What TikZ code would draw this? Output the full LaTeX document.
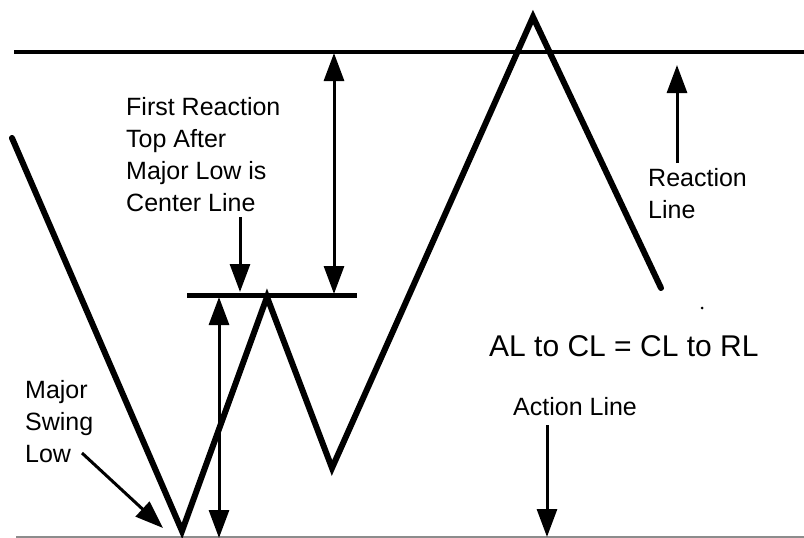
\documentclass[tikz,border=0pt]{standalone}
\usepackage{fontspec}
\setmainfont{Liberation Sans}
\usetikzlibrary{arrows.meta}
\begin{document}
\begin{tikzpicture}[x=1pt,y=-1pt,
  price/.style={line width=6pt,line cap=round,line join=miter},
  level/.style={line width=4pt},
  baseline/.style={line width=2pt,draw=black!45},
  ptr/.style={line width=3pt,-{Triangle[length=28pt,width=20pt]}},
  dptr/.style={line width=3pt,{Triangle[length=28pt,width=20pt]}-{Triangle[length=28pt,width=20pt]}},
  lbl/.style={inner sep=0pt,anchor=north west,align=left,font=\fontsize{25}{32}\selectfont},
  eq/.style={inner sep=0pt,anchor=north west,font=\fontsize{30}{36}\selectfont}]
\useasboundingbox[fill=white] (0,0) rectangle (804,538);
% level lines
\coordinate (rlL) at (14,52);
\coordinate (rlR) at (804,52);
\coordinate (clL) at (187,295);
\coordinate (clR) at (357,295);
\coordinate (alL) at (16,537);
\coordinate (alR) at (804,537);
\draw[level] (rlL) -- (rlR);
\draw[level,line width=5pt] (clL) -- (clR);
\draw[baseline] (alL) -- (alR);
% price swing
\coordinate (p0) at (12,138);
\coordinate (p1) at (182,531);
\coordinate (p2) at (267,297);
\coordinate (p3) at (332,468);
\coordinate (p4) at (533,17);
\coordinate (p5) at (661,288);
\draw[price] (p0) -- (p1) -- (p2) -- (p3) -- (p4) -- (p5);
% labels
\node[lbl] (first) at (126,97) {First Reaction\\Top After\\Major Low is\\Center Line};
\node[lbl] (react) at (648,168) {Reaction\\Line};
\node[lbl] (major) at (25,380) {Major\\Swing\\Low};
\node[lbl] (action) at (513,397) {Action Line};
\node[eq] (formula) at (489,335) {AL to CL = CL to RL};
% arrows
\coordinate (a1s) at (240,217);
\coordinate (a1e) at (240,292);
\draw[ptr] (a1s) -- (a1e);
\coordinate (d1t) at (334,53);
\coordinate (d1b) at (334,294);
\draw[dptr] (d1t) -- (d1b);
\coordinate (d2t) at (219,297);
\coordinate (d2b) at (219,538);
\draw[dptr] (d2t) -- (d2b);
\coordinate (a2s) at (677,163);
\coordinate (a2e) at (677,65);
\draw[ptr] (a2s) -- (a2e);
\coordinate (a3s) at (547,425);
\coordinate (a3e) at (547,537);
\draw[ptr] (a3s) -- (a3e);
\coordinate (a4s) at (82,453);
\coordinate (a4e) at (163,528);
\draw[ptr] (a4s) -- (a4e);
% speck
\fill (702,308) circle (1.5pt);
\end{tikzpicture}
\end{document}
